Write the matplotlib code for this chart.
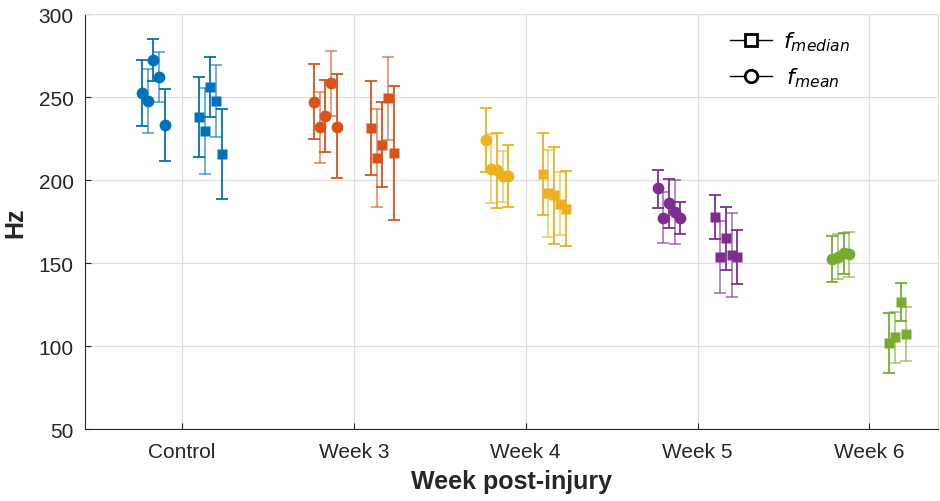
import matplotlib.pyplot as plt
import numpy as np

plt.rcParams['font.family'] = ['Liberation Sans', 'DejaVu Sans']

weeks = ['Control', 'Week 3', 'Week 4', 'Week 5', 'Week 6']
colors = ['#0072BD', '#D95319', '#EDB120', '#7E2F8E', '#77AC30']

# mean frequency per animal (circles), with lower / upper bar ends
mean_val = [[252.4, 247.6, 272.3, 261.8, 233.1],
            [247.2, 231.7, 238.7, 258.2, 232.1],
            [223.9, 206.8, 206.0, 202.2, 202.2],
            [195.0, 177.3, 186.1, 181.0, 176.9],
            [152.4, 153.8, 155.8, 155.2]]
mean_lo = [[232.5, 228.1, 259.8, 247.0, 211.6],
           [224.9, 210.4, 217.1, 238.7, 201.0],
           [204.6, 186.0, 183.1, 186.7, 183.5],
           [183.3, 162.0, 171.3, 161.3, 167.3],
           [138.7, 140.6, 143.2, 141.4]]
mean_hi = [[272.3, 266.9, 284.7, 276.9, 254.8],
           [269.7, 253.2, 260.4, 277.5, 263.6],
           [243.2, 227.5, 228.3, 217.5, 220.9],
           [206.2, 193.0, 200.6, 200.0, 187.0],
           [166.3, 167.5, 168.3, 168.9]]

# median frequency per animal (squares)
med_val = [[237.8, 229.3, 256.2, 247.4, 215.7],
           [231.5, 213.3, 221.3, 249.2, 216.3],
           [203.8, 192.0, 190.8, 185.7, 182.7],
           [177.9, 153.8, 165.0, 154.8, 153.6],
           [101.8, 105.6, 126.5, 107.4]]
med_lo = [[213.6, 203.6, 238.1, 225.7, 188.4],
          [203.0, 183.9, 196.0, 224.3, 176.1],
          [179.1, 165.9, 161.4, 166.7, 160.2],
          [164.7, 131.9, 145.8, 129.7, 137.1],
          [84.0, 89.9, 115.0, 90.9]]
med_hi = [[261.8, 255.2, 274.3, 269.5, 242.8],
          [259.8, 242.8, 246.8, 274.3, 256.4],
          [228.5, 218.1, 220.1, 204.6, 205.4],
          [191.2, 175.5, 183.9, 180.0, 170.0],
          [119.9, 120.7, 138.1, 123.7]]

fig = plt.figure(figsize=(9.4, 5.02), dpi=100)
ax = fig.add_axes([0.0904, 0.1434, 0.9076, 0.8266])

step = 0.033
for i in range(len(weeks)):
    x0 = i + 1
    for vals, lo, hi, mk, centre in [(mean_val[i], mean_lo[i], mean_hi[i], 'o', -0.166),
                                     (med_val[i], med_lo[i], med_hi[i], 's', 0.166)]:
        n = len(vals)
        for k in range(n):
            x = x0 + centre + (k - (n - 1) / 2) * step
            err = [[vals[k] - lo[k]], [hi[k] - vals[k]]]
            a = 1.0 if k % 2 == 0 else 0.6
            ax.errorbar(x, vals[k], yerr=err, fmt='none', ecolor=colors[i],
                        elinewidth=1.3, capsize=4, capthick=1.3, alpha=a, zorder=2)
            ms = 8.5 if mk == 'o' else 7.0
            ax.plot(x, vals[k], mk, color=colors[i], ms=ms, mec='none', zorder=3)

# legend
h_med, = ax.plot([], [], 's-', color='black', mfc='white', mec='black', ms=9, mew=2, lw=1)
h_mean, = ax.plot([], [], 'o-', color='black', mfc='white', mec='black', ms=9, mew=2, lw=1)
ax.legend([h_med, h_mean], [r'$\mathit{f}_{\mathit{median}}$', r'$\,\mathit{f}_{\mathit{mean}}$'],
          loc='upper right', bbox_to_anchor=(0.897, 0.962), frameon=False,
          borderpad=0, borderaxespad=0,
          fontsize=16, handlelength=1.9, handletextpad=0.5, labelspacing=0.55)

ax.set_xlim(0.436, 5.40)
ax.set_ylim(50, 300)
ax.set_xticks(range(1, len(weeks) + 1))
ax.set_xticklabels(weeks)
ax.set_yticks([50, 100, 150, 200, 250, 300])
ax.tick_params(direction='in', labelsize=15, colors='#262626', length=4)
ax.tick_params(axis='y', pad=8)
ax.tick_params(axis='x', pad=9)
ax.grid(True, color='#dfdfdf', lw=0.9)
ax.set_axisbelow(True)
for s in ['top', 'right']:
    ax.spines[s].set_color('#dfdfdf')
for s in ['left', 'bottom']:
    ax.spines[s].set_color('#262626')
ax.set_ylabel('Hz', fontsize=18, fontweight='bold', color='#262626', labelpad=8)
ax.set_xlabel('Week post-injury', fontsize=18, fontweight='bold', color='#262626', labelpad=6)

fig.savefig('out.png', dpi=100)
